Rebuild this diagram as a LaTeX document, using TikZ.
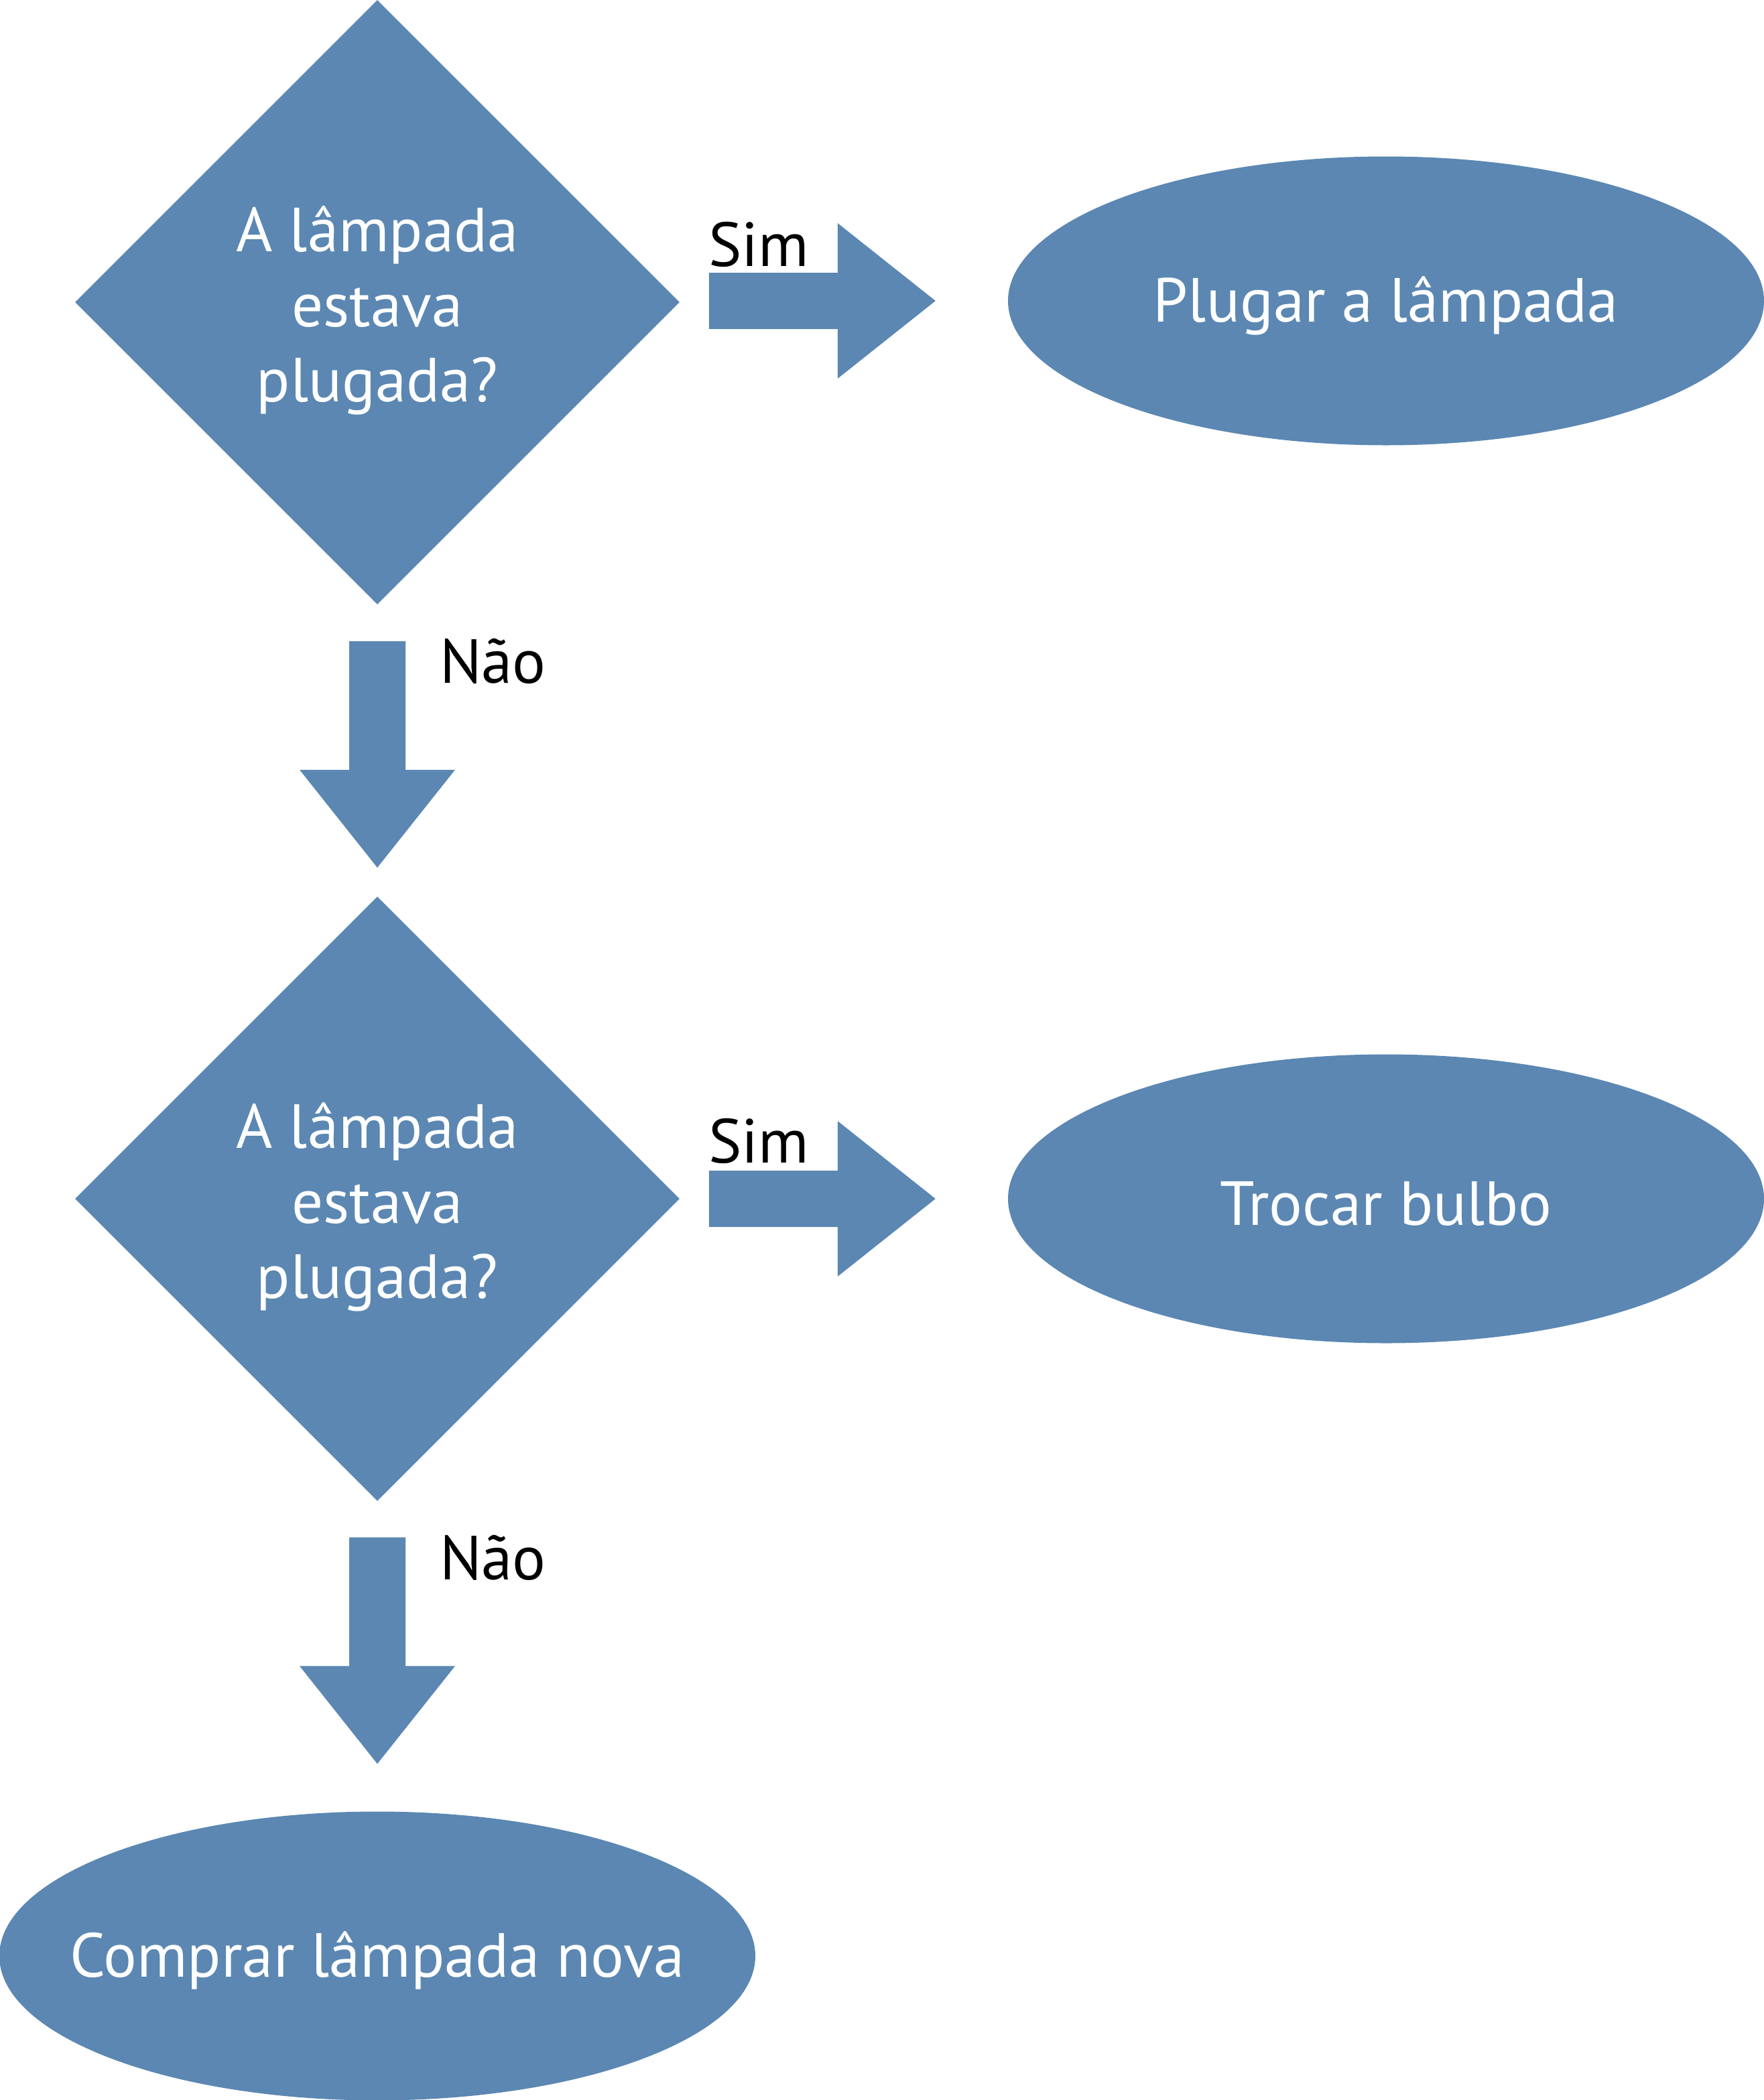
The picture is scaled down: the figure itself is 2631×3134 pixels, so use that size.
\documentclass[tikz,border=0pt]{standalone}
\usepackage{fontspec}
\setmainfont{PT Sans}
\usetikzlibrary{shapes.geometric,calc}
\definecolor{flow}{RGB}{91,135,178}
\begin{document}
\begin{tikzpicture}[x=1pt,y=-1pt,
  txt/.style={font=\fontsize{93}{112}\selectfont},
  intext/.style={txt, text=white, align=center, inner sep=0pt},
  decision/.style={diamond, fill=flow, minimum width=902pt, minimum height=902pt, inner sep=0pt,
    label={[intext, yshift=-12pt]center:#1}},
  terminal/.style={ellipse, fill=flow, minimum width=1128pt, minimum height=431pt, inner sep=0pt,
    label={[intext, yshift=-7pt]center:#1}},
  lbl/.style={txt, text=black, inner sep=0pt, anchor=base west},
  rarrow/.pic={\fill[flow] (0,0) -- (-146,-116) -- (-146,-42) -- (-338,-42) -- (-338,42) -- (-146,42) -- (-146,116) -- cycle;},
  darrow/.pic={\fill[flow] (0,0) -- (-116,-146) -- (-42,-146) -- (-42,-338) -- (42,-338) -- (42,-146) -- (116,-146) -- cycle;}
]
\useasboundingbox (0,0) rectangle (2631,3134);

\node[decision={A lâmpada\\estava\\plugada?}] (d1) at (563,451) {};
\node[terminal={Plugar a lâmpada}] (e1) at (2068,449) {};
\node[decision={A lâmpada\\estava\\plugada?}] (d2) at (563,1789) {};
\node[terminal={Trocar bulbo}] (e2) at (2068,1789) {};
\node[terminal={Comprar lâmpada nova}] (e3) at (563,2919) {};

\pic at ($(e1.west)+(-108,0)$) {rarrow};
\pic at ($(e2.west)+(-108,0)$) {rarrow};
\pic at ($(d2.north)+(0,-43)$) {darrow};
\pic at ($(e3.north)+(0,-71)$) {darrow};

\node[lbl] (s1) at (1057,397) {Sim};
\node[lbl] (s2) at (1057,1735) {Sim};
\node[lbl] (n1) at (656,1019) {Não};
\node[lbl] (n2) at (656,2357) {Não};
\end{tikzpicture}
\end{document}
